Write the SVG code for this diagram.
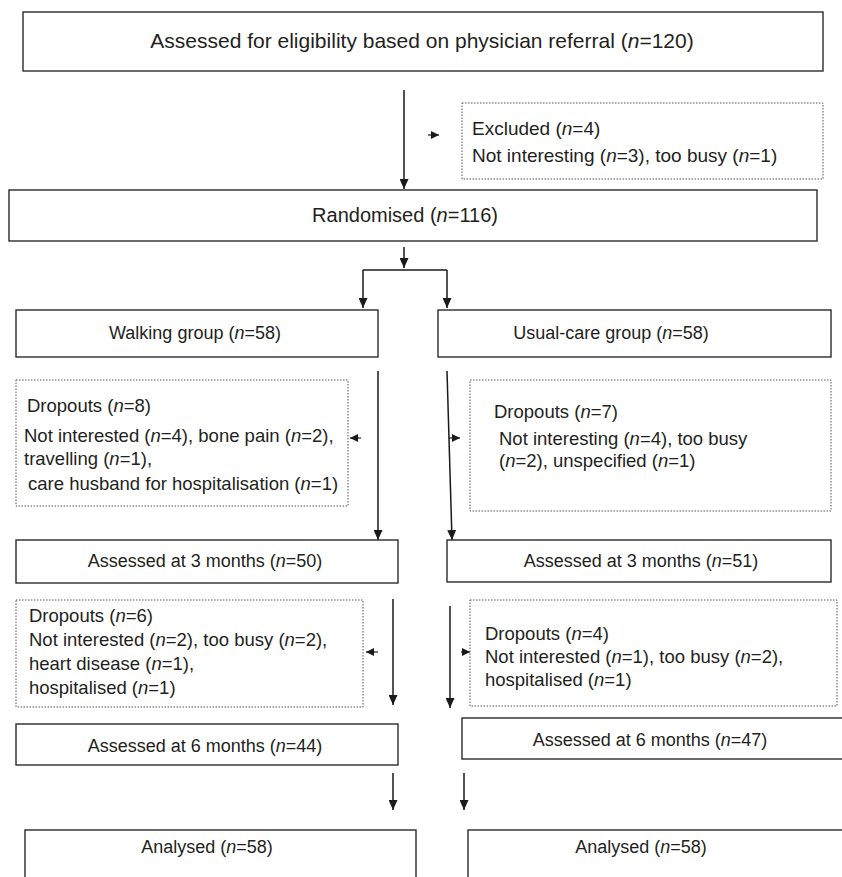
<svg xmlns="http://www.w3.org/2000/svg" width="842" height="877" viewBox="0 0 842 877">
<defs>
<style>
.box{fill:#fff;stroke:#2b2b2b;stroke-width:1.4}
.dot{fill:#fff;stroke:#555;stroke-width:1;stroke-dasharray:1.5 1.5}
.ln{fill:none;stroke:#1a1a1a;stroke-width:1.5}
.sm{fill:none;stroke:#1a1a1a;stroke-width:1.2}
text{font-family:"Liberation Sans",Arial,Helvetica,sans-serif;fill:#231f20}
.t21{font-size:21px}
.t20{font-size:20px}
.t18{font-size:18px}
.t185{font-size:18.5px}
.t19{font-size:19px}
.c{text-anchor:middle}
</style>
<marker id="ah" markerUnits="userSpaceOnUse" markerWidth="10" markerHeight="9" refX="10" refY="4.5" orient="auto">
<path d="M0,0 L10,4.5 L0,9 z" fill="#1a1a1a"/>
</marker>
<marker id="ahs" markerUnits="userSpaceOnUse" markerWidth="8" markerHeight="8" refX="8" refY="4" orient="auto">
<path d="M0,0 L8,4 L0,8 z" fill="#1a1a1a"/>
</marker>
</defs>

<g id="connectors">
<line class="ln" x1="404" y1="90" x2="404" y2="189" marker-end="url(#ah)"/>
<line class="sm" x1="428" y1="135" x2="439" y2="135" marker-end="url(#ahs)"/>
<line class="ln" x1="404" y1="247" x2="404" y2="268" marker-end="url(#ah)"/>
<path class="ln" d="M363,270 H447" />
<line class="ln" x1="363" y1="270" x2="363" y2="308" marker-end="url(#ah)"/>
<line class="ln" x1="447" y1="270" x2="447" y2="308" marker-end="url(#ah)"/>
<line class="ln" x1="378" y1="371" x2="378" y2="540" marker-end="url(#ah)"/>
<line class="sm" x1="361" y1="438" x2="350" y2="438" marker-end="url(#ahs)"/>
<line class="ln" x1="447" y1="371" x2="452" y2="540" marker-end="url(#ah)"/>
<line class="sm" x1="449" y1="438" x2="460" y2="438" marker-end="url(#ahs)"/>
<line class="ln" x1="393" y1="599" x2="393" y2="705" marker-end="url(#ah)"/>
<line class="sm" x1="378" y1="652" x2="366" y2="652" marker-end="url(#ahs)"/>
<line class="ln" x1="450" y1="606" x2="450" y2="708" marker-end="url(#ah)"/>
<line class="sm" x1="461" y1="652" x2="470" y2="652" marker-end="url(#ahs)"/>
<line class="ln" x1="393" y1="773" x2="393" y2="810" marker-end="url(#ah)"/>
<line class="ln" x1="464" y1="773" x2="464" y2="810" marker-end="url(#ah)"/>
</g>

<g id="assessed">
<rect class="box" x="23" y="12" width="800" height="59"/>
<text class="t21 c" x="422" y="48">Assessed for eligibility based on physician referral (<tspan font-style="italic">n</tspan>=120)</text>
</g>

<g id="excluded">
<rect class="dot" x="462" y="103" width="361" height="76"/>
<text class="t19" x="472" y="135">Excluded (<tspan font-style="italic">n</tspan>=4)</text>
<text class="t19" x="472" y="162">Not interesting (<tspan font-style="italic">n</tspan>=3), too busy (<tspan font-style="italic">n</tspan>=1)</text>
</g>

<g id="randomised">
<rect class="box" x="9" y="190" width="808" height="51"/>
<text class="t20 c" x="405" y="222">Randomised (<tspan font-style="italic">n</tspan>=116)</text>
</g>

<g id="walking">
<rect class="box" x="16" y="310" width="362" height="47"/>
<text class="t18 c" x="195" y="339">Walking group (<tspan font-style="italic">n</tspan>=58)</text>
</g>

<g id="usualcare">
<rect class="box" x="438" y="310" width="393" height="47"/>
<text class="t18 c" x="611" y="339">Usual-care group (<tspan font-style="italic">n</tspan>=58)</text>
</g>

<g id="dropouts-w1">
<rect class="dot" x="16" y="380" width="332" height="126"/>
<text class="t185" x="27" y="412">Dropouts (<tspan font-style="italic">n</tspan>=8)</text>
<text class="t185" x="24" y="442">Not interested (<tspan font-style="italic">n</tspan>=4), bone pain (<tspan font-style="italic">n</tspan>=2),</text>
<text class="t185" x="24" y="465">travelling (<tspan font-style="italic">n</tspan>=1),</text>
<text class="t185" x="28" y="490">care husband for hospitalisation (<tspan font-style="italic">n</tspan>=1)</text>
</g>

<g id="dropouts-u1">
<rect class="dot" x="470" y="380" width="361" height="131"/>
<text class="t185" x="494" y="418">Dropouts (<tspan font-style="italic">n</tspan>=7)</text>
<text class="t185" x="499" y="445">Not interesting (<tspan font-style="italic">n</tspan>=4), too busy</text>
<text class="t185" x="499" y="467">(<tspan font-style="italic">n</tspan>=2), unspecified (<tspan font-style="italic">n</tspan>=1)</text>
</g>

<g id="w3m">
<rect class="box" x="16" y="540" width="382" height="43"/>
<text class="t18 c" x="205" y="567">Assessed at 3 months (<tspan font-style="italic">n</tspan>=50)</text>
</g>

<g id="u3m">
<rect class="box" x="447" y="540" width="384" height="42"/>
<text class="t18 c" x="641" y="567">Assessed at 3 months (<tspan font-style="italic">n</tspan>=51)</text>
</g>

<g id="dropouts-w2">
<rect class="dot" x="16" y="600" width="347" height="107"/>
<text class="t185" x="29" y="622">Dropouts (<tspan font-style="italic">n</tspan>=6)</text>
<text class="t185" x="29" y="646">Not interested (<tspan font-style="italic">n</tspan>=2), too busy (<tspan font-style="italic">n</tspan>=2),</text>
<text class="t185" x="29" y="670">heart disease (<tspan font-style="italic">n</tspan>=1),</text>
<text class="t185" x="29" y="694">hospitalised (<tspan font-style="italic">n</tspan>=1)</text>
</g>

<g id="dropouts-u2">
<rect class="dot" x="470" y="600" width="367" height="106"/>
<text class="t185" x="485" y="640">Dropouts (<tspan font-style="italic">n</tspan>=4)</text>
<text class="t185" x="485" y="663">Not interested (<tspan font-style="italic">n</tspan>=1), too busy (<tspan font-style="italic">n</tspan>=2),</text>
<text class="t185" x="485" y="686">hospitalised (<tspan font-style="italic">n</tspan>=1)</text>
</g>

<g id="w6m">
<rect class="box" x="16" y="724" width="382" height="41"/>
<text class="t18 c" x="205" y="752">Assessed at 6 months (<tspan font-style="italic">n</tspan>=44)</text>
</g>

<g id="u6m">
<rect class="box" x="462" y="718" width="392" height="41"/>
<text class="t18 c" x="650" y="746">Assessed at 6 months (<tspan font-style="italic">n</tspan>=47)</text>
</g>

<g id="wanalysed">
<rect class="box" x="25" y="830" width="391" height="60"/>
<text class="t18 c" x="207" y="853">Analysed (<tspan font-style="italic">n</tspan>=58)</text>
</g>

<g id="uanalysed">
<rect class="box" x="468" y="830" width="392" height="60"/>
<text class="t18 c" x="641" y="853">Analysed (<tspan font-style="italic">n</tspan>=58)</text>
</g>
</svg>
